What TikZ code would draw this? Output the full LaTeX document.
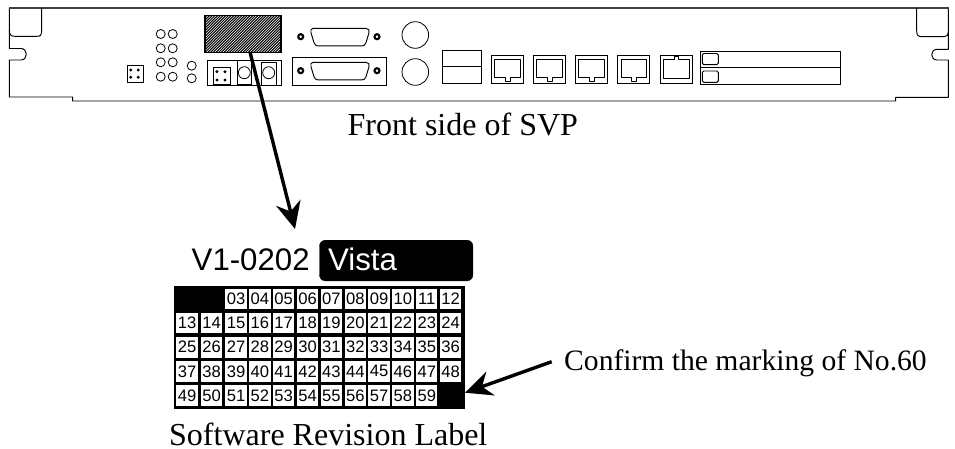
\documentclass[tikz,border=0pt]{standalone}
\usepackage{fontspec}
\setmainfont{Liberation Serif}
\newfontfamily\lsans{Liberation Sans}
\usetikzlibrary{arrows.meta}
\begin{document}
\begin{tikzpicture}[x=1pt,y=-1pt,
 ln/.style={draw=black,line width=0.95pt},
 hole/.style={draw=black,line width=0.8pt,fill=white},
 screw/.style={draw=black,line width=2.1pt,fill=white},
 ser/.style={font=\fontsize{32}{32}\selectfont,inner sep=0pt,anchor=base west},
 lab/.style={font=\lsans\fontsize{31.2}{31.2}\selectfont,inner sep=0pt,anchor=base west},
 numt/.style={font=\lsans\fontsize{16.6}{16.6}\selectfont,inner sep=0pt},
 bigarrow/.style={line width=3.4pt,-{Stealth[length=27pt,width=25pt,inset=9pt]}}]
\useasboundingbox (0,0) rectangle (955,449);
% panel
\draw[ln,line join=round] (9.4,8) -- (9.4,48.5) -- (21,48.5)
 .. controls (28,48.5) and (28,60) .. (21,60) -- (9.4,60) -- (9.4,97) -- (72.7,97) -- (72.7,101) -- (895.7,101) -- (895.7,97.3) -- (948.4,97.3) -- (948.4,60) -- (937,60)
 .. controls (930,60) and (930,49.3) .. (937,49.3) -- (948.4,49.3) -- (948.4,8);
\draw[draw=black!75,line width=1.5pt] (9,7.8) -- (948.8,7.8);
\draw[ln] (9.4,30) .. controls (9.4,35) and (11,36.3) .. (15,36.3) -- (37,36.3) .. controls (40.5,36.3) and (41.7,35) .. (41.7,32) -- (41.7,8);
\draw[ln] (916.7,8) -- (916.7,31) .. controls (916.7,35) and (918,36.7) .. (922,36.7) -- (944,36.7) .. controls (947,36.7) and (948.4,35) .. (948.4,32);
% small block left
\draw[ln] (127.5,65.7) rectangle (143.3,82.7);
\foreach \x in {130.8,138.3}\foreach \y in {70,77.3}\draw[screw,line width=0.9pt] (\x,\y) circle (1);
% circles
\foreach \x in {160.7,172.7}\foreach \y in {34,48.3,62.3,76.7}\draw[hole] (\x,\y) circle (4.5);
\foreach \y in {65.7,78.3}\draw[hole] (191.7,\y) circle (4.5);
% block
\draw[ln] (207.3,60.7) rectangle (281.7,85);
\draw[ln] (213.3,67.7) rectangle (230,84.3);
\foreach \x in {216.9,225}\foreach \y in {71.7,80}\draw[screw,line width=0.9pt] (\x,\y) circle (1);
\draw[ln] (237.3,60.7) rectangle (251.7,84.5);
\draw[hole] (244.3,72.7) circle (6);
\draw[ln] (261.7,62.7) rectangle (276,85);
\draw[hole] (268.7,72.7) circle (6);
% hatch
\node[draw=black,line width=1.7pt,minimum width=75.6pt,minimum height=37pt,inner sep=0pt,anchor=north west,
 path picture={\foreach \k in {-80,-77.3,...,45}{\draw[black,line width=1pt] (\k,20) -- (\k+40,-20);}}] (hatch) at (204.3,14.7) {};
% D-sub
\draw[ln] (292.7,57.5) rectangle (386.7,85.7);
\foreach \yy in {36.7,70.7}{
 \draw[ln,fill=white] (313,\yy-8.4) -- (366,\yy-8.4) .. controls (369,\yy-8.4) and (369.5,\yy-6) .. (369,\yy-4) -- (366,\yy+6) .. controls (365,\yy+8.4) and (364,\yy+9.2) .. (362,\yy+9.2) -- (318,\yy+9.2) .. controls (316,\yy+9.2) and (315,\yy+8.4) .. (314,\yy+6) -- (311,\yy-4) .. controls (310.3,\yy-6) and (311,\yy-8.4) .. (313,\yy-8.4) -- cycle;
 \draw[screw] (300.7,\yy) circle (2.5);
 \draw[screw] (377,\yy) circle (2.5);
}
\draw[hole] (415.3,35) circle (13.3);
\draw[hole] (415.3,72) circle (13.3);
% double box
\draw[ln] (442.3,50.7) rectangle (481,83.3);
\draw[ln] (442.3,66.7) -- (481,66.7);
% RJ45
\foreach \xx in {491,533,575,617.3}{
 \draw[ln] (\xx,55.3) rectangle (\xx+32.5,83.3);
 \draw[ln,line join=round] (\xx+3.8,59.5) -- (\xx+29,59.5) -- (\xx+29,77.5) -- (\xx+19,77.5) -- (\xx+19,81) -- (\xx+14.5,81) -- (\xx+14.5,77.5) -- (\xx+3.8,77.5) -- cycle;
}
\def\xx{660}
\draw[ln] (\xx,55.3) rectangle (\xx+32.3,83.3);
\draw[ln,line join=round] (\xx+3.5,59.5) -- (\xx+14,59.5) -- (\xx+14,56.8) -- (\xx+18,56.8) -- (\xx+18,59.5) -- (\xx+29,59.5) -- (\xx+29,78.3) -- (\xx+3.5,78.3) -- cycle;
% right card
\draw[ln] (700,51) rectangle (840,84.7);
\draw[ln] (700,67.7) -- (840,67.7);
\draw[ln,rounded corners=1.5pt] (702.3,53.5) rectangle (718.3,64.7);
\draw[ln,rounded corners=1.5pt] (702.3,71) rectangle (718.3,82.3);
% arrow
\coordinate (a1) at (250,52);
\coordinate (a2) at (295,229);
\draw[bigarrow] (a1) -- (a2);
% texts
\node[ser] (t1) at (347.5,136) {Front side of SVP};
\node[ser] (t2) at (169,445) {Software Revision Label};
\node[ser,font=\fontsize{29.6}{29.6}\selectfont] (t3) at (564,370.5) {Confirm the marking of No.60};
\node[lab] (ver) at (191.5,270.7) {V1-0202};
\node[draw=black,fill=black,rounded corners=6pt,minimum width=153.4pt,minimum height=40.7pt,inner sep=0pt,anchor=north west] (bar) at (319.3,240) {};
\node[lab,text=white] (vista) at (328,270.7) {Vista};
% grid
\fill[black] (174,286) rectangle (464.7,408.7);
\foreach \r in {0,...,4}\foreach \c in {0,...,11}{
 \pgfmathtruncatemacro{\n}{\c+\r*12+1}
 \pgfmathsetmacro{\cx}{\c==0 ? 187 : (\c==1 ? 211.5 : 236+(\c-2)*23.85)}
 \pgfmathsetmacro{\cy}{299+\r*24.1}
 \pgfmathsetmacro{\cw}{\c==0 ? 22.5 : 21.3}
 \ifnum\n=1\relax\else\ifnum\n=2\relax\else\ifnum\n=60\relax\else
  \node[fill=white,minimum width=\cw pt,minimum height=20.7pt,inner sep=0pt,numt] (c\n) at (\cx,\cy) {\ifnum\n<10 0\fi\n};
 \fi\fi\fi
}
% confirm arrow
\coordinate (b1) at (551.7,361.7);
\coordinate (b2) at (465,392.7);
\draw[bigarrow] (b1) -- (b2);
\end{tikzpicture}
\end{document}
